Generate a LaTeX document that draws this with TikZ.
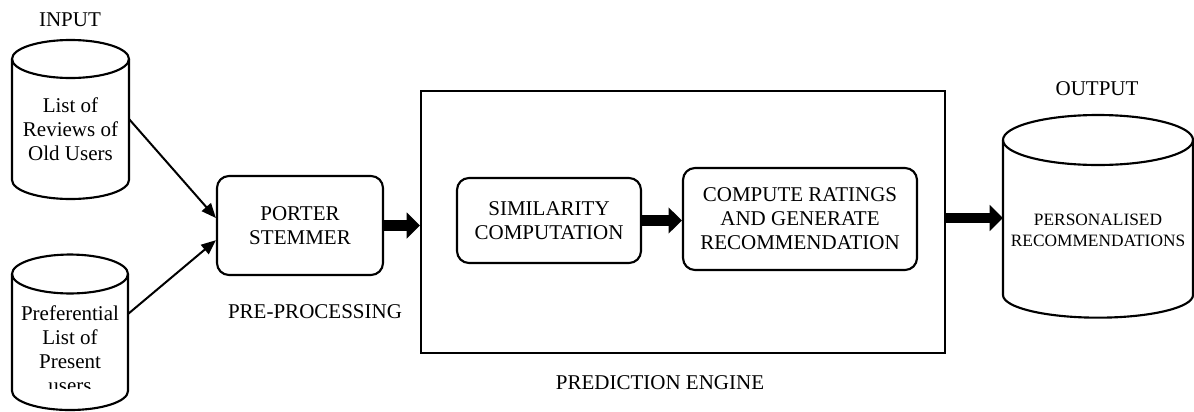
\documentclass[tikz,border=0pt]{standalone}
\usepackage{fontspec}
\setmainfont{Liberation Serif}
\usetikzlibrary{arrows.meta}

\begin{document}
\begin{tikzpicture}[x=0.75pt, y=-0.75pt,
  txt/.style={font=\fontsize{15.75}{18}\selectfont, align=center, inner sep=0pt},
  smalltxt/.style={font=\fontsize{13}{15.75}\selectfont, align=center, inner sep=0pt},
  outline/.style={draw=black, line width=1.6pt},
  procbox/.style={outline, txt, rectangle, rounded corners=9pt},
  thinarrow/.style={line width=1.5pt, -{Triangle[length=11pt, width=9pt]}},
  bigarrow/.style={line width=8pt, -{Triangle[length=10pt, width=19pt]}}]

\useasboundingbox (0,0) rectangle (1194,411);

% database cylinders: left x, right x, top-centre y, bottom-centre y, radii in pt
\draw[outline] (12,59) -- (12,180) arc[start angle=180, end angle=360, x radius=43.875pt, y radius=14.25pt] -- (129,59);
\draw[outline] (70.5,59) ellipse [x radius=43.875pt, y radius=14.25pt];

\draw[outline] (12,274) -- (12,391) arc[start angle=180, end angle=360, x radius=43.5pt, y radius=14.25pt] -- (128,274);
\draw[outline] (70,274) ellipse [x radius=43.5pt, y radius=14.6pt];

\draw[outline] (1003,140) -- (1003,295) arc[start angle=180, end angle=360, x radius=71.25pt, y radius=17pt] -- (1193,140);
\draw[outline] (1098,140) ellipse [x radius=71.25pt, y radius=18.75pt];

% cylinder contents and captions
\node[txt] (input) at (70,20) {INPUT};
\node[txt] (oldusers) at (70.5,129) {List of\\Reviews of\\Old Users};
\begin{scope}
  \clip (0,290) rectangle (200,388);
  \node[txt] (present) at (70,349) {Preferential\\List of\\Present\\users};
\end{scope}
\node[txt] (outlabel) at (1097,89) {OUTPUT};
\node[smalltxt] (recs) at (1098,230) {PERSONALISED\\RECOMMENDATIONS};

% connector end points on the cylinders
\coordinate (c1e) at (129,119);
\coordinate (c2e) at (128,314);
\coordinate (c3w) at (1003,218);

% processing blocks
\node[procbox, minimum width=124.5pt, minimum height=74.25pt] (porter) at (300,225.5) {PORTER\\STEMMER};
\node[txt] (pre) at (315,312) {PRE-PROCESSING};

\node[draw=black, line width=1.5pt, rectangle, minimum width=393pt, minimum height=196.5pt, inner sep=0pt] (engine) at (683,222) {};
\node[txt] (enginelabel) at (660,383) {PREDICTION ENGINE};

\node[procbox, minimum width=138pt, minimum height=63.75pt] (sim) at (549,220.5) {SIMILARITY\\COMPUTATION};
\node[procbox, minimum width=175.5pt, minimum height=76.5pt] (compute) at (800,219) {COMPUTE RATINGS\\AND GENERATE\\RECOMMENDATION};

% connectors
\draw[thinarrow] (c1e) -- ([yshift=5.6pt]porter.west);
\draw[thinarrow] (c2e) -- ([yshift=-11pt]porter.west);
\draw[bigarrow] (porter.east) -- (porter.east -| engine.west);
\draw[bigarrow] (sim.east) -- (sim.east -| compute.west);
\draw[bigarrow] (engine.east |- c3w) -- (c3w);
\end{tikzpicture}
\end{document}
